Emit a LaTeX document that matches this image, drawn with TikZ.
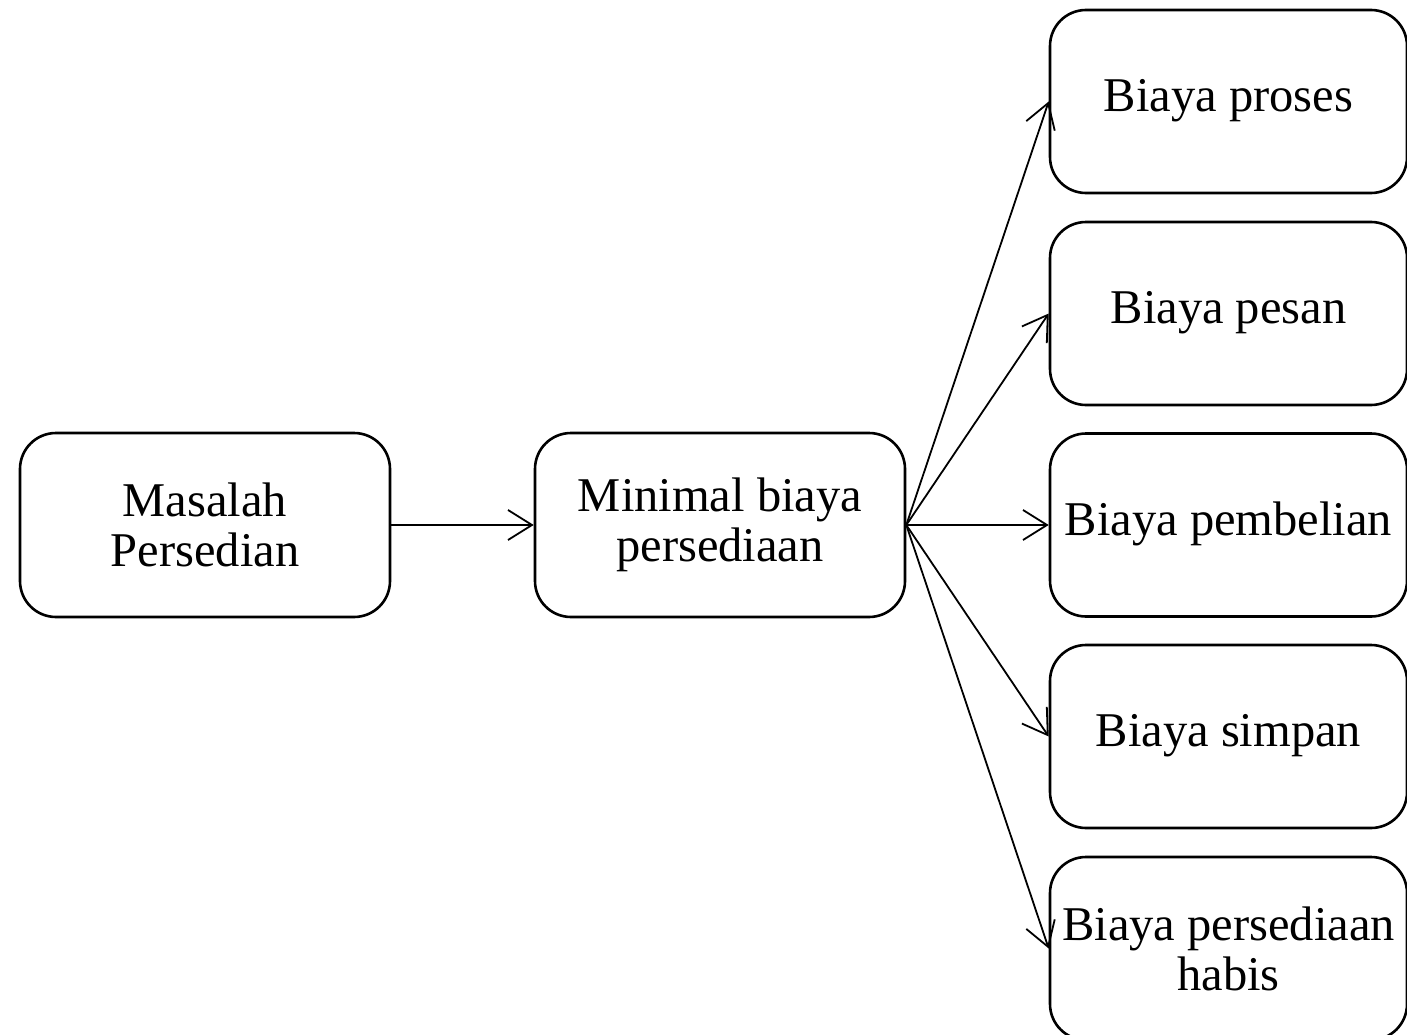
\documentclass[tikz,border=0pt]{standalone}
\usepackage{fontspec}
\setmainfont{Liberation Serif}
\usetikzlibrary{arrows.meta}
\begin{document}
\begin{tikzpicture}[x=1pt,y=-1pt,
  box/.style={draw, line width=2.6pt, rounded corners=36pt, align=center,
    font=\fontsize{48.5}{50}\selectfont, inner sep=0pt},
  lbox/.style={box, minimum width=370pt, minimum height=184pt},
  rbox/.style={box, minimum width=357pt, minimum height=183pt},
  conn/.style={line width=1.8pt, -{Straight Barb[length=24pt,width=30pt,line width=1.8pt]}}]
\useasboundingbox (0,0) rectangle (1407,1035);
\node[lbox] (a) at (205,525) {Masalah\\Persedian};
\node[lbox] (b) at (720,525) {Minimal biaya\\persediaan};
\node[rbox] (r1) at (1228.5,101.5) {\strut Biaya proses};
\node[rbox] (r2) at (1228.5,313.5) {\strut Biaya pesan};
\node[rbox] (r3) at (1228.5,525) {\strut Biaya pembelian};
\node[rbox] (r4) at (1228.5,736.5) {\strut Biaya simpan};
\node[rbox] (r5) at (1228.5,948.5) {Biaya persediaan\\habis};
\draw[conn] (a.east) -- (b.west);
\foreach \n in {r1,r2,r3,r4,r5}
  \draw[conn] (b.east) -- (\n.west);
\end{tikzpicture}
\end{document}
